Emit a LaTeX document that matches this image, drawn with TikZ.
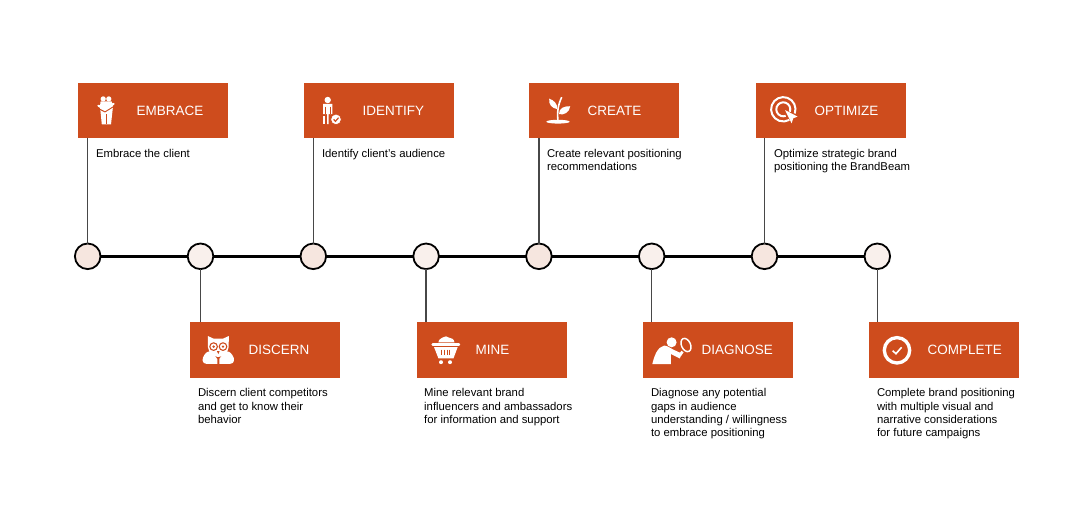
\documentclass[tikz,border=0pt]{standalone}
\usepackage{fontspec}
\setmainfont{Liberation Sans}
\usepackage{xcolor}
\usetikzlibrary{positioning}
\definecolor{brand}{HTML}{CE4C1D}
\definecolor{dotwarm}{HTML}{F6E6DF}
\definecolor{dotpale}{HTML}{F9F0EC}
\tikzset{
	pics/embraceicon/.style={code={
		\fill[white] (-2.8,-11.4) circle (2.6);
		\fill[white] (2.8,-11.4) circle (2.6);
		\fill[white] (-5.4,-9) -- (5.6,-9) -- (7,-4) -- (5,14) -- (-4.2,14) -- (-6,-4) -- cycle;
		\draw[brand,line width=.7pt] (-9,-2.5) -- (-1,1.6) -- (9,-4.6);
		\draw[white,line width=1.6pt,line cap=round] (-7.6,-4.6) -- (-1,-1) -- (7.6,-6.5);
		\draw[brand,line width=.4pt] (0,4) -- (0,14);
	}},
	pics/identifyicon/.style={code={
		\fill[white] (-4.3,-10.7) circle (3.2);
		\fill[white] (-9,-6.8) -- (.4,-6.8) -- (.4,3.4) -- (-3.4,3.4) -- (-3.4,13.4) -- (-5,13.4) -- (-5,3.4) -- (-9,3.4) -- cycle;
		\fill[white] (-9,5) rectangle (-6.6,13.4);
		\draw[brand,line width=.45pt] (-7.2,-4) -- (-7.2,3.4);
		\draw[brand,line width=.45pt] (-1.5,-4) -- (-1.5,3.4);
		\fill[white,draw=brand,line width=.6pt] (4,8.7) circle (5.4);
		\draw[brand,line width=.9pt] (1.6,8.7) -- (3.4,10.6) -- (6.6,7);
	}},
	pics/createicon/.style={code={
		\fill[white] (0,11) ellipse (11.7 and 1.9);
		\draw[white,line width=1.2pt] (0,10) .. controls (-1,2) and (0,-6) .. (3.7,-13.5);
		\fill[white] (-.6,-1.5) .. controls (-6,-2.5) and (-9.5,-6) .. (-8.8,-12) .. controls (-4,-10.5) and (-.6,-7) .. cycle;
		\fill[white] (1,3.5) .. controls (1,-3) and (6,-4.5) .. (12.2,-4.5) .. controls (11.5,2) and (6,4.5) .. cycle;
	}},
	pics/optimizeicon/.style={code={
		\draw[white,line width=1.5pt] (20:12.2) arc (20:-300:12.2);
		\draw[white,line width=1.5pt] (20:7) arc (20:-290:7);
		\fill[white] (1.7,.7) -- (14.3,7.3) -- (10,9) -- (8.3,14) -- cycle;
	}},
	pics/discernicon/.style={code={
		\fill[white] (-10.5,-14) -- (-5,-11.5) -- (5,-11.5) -- (10.5,-14) -- (10.4,-3) .. controls (10,3) and (4,7) .. (0,7) .. controls (-4,7) and (-10,3) .. (-10.4,-3) -- cycle;
		\fill[white] (-1,13.8) -- (-12,13.8) .. controls (-16,13.8) and (-17,9) .. (-14,5) .. controls (-12,2) and (-10,1) .. (-7,1) -- (-1,9) -- cycle;
		\fill[white] (1,13.8) -- (12,13.8) .. controls (16,13.8) and (17,9) .. (14,5) .. controls (12,2) and (10,1) .. (7,1) -- (1,9) -- cycle;
		\draw[brand,line width=.8pt] (-4.7,-3.4) circle (3.8);
		\draw[brand,line width=.8pt] (4.7,-3.4) circle (3.8);
		\fill[brand] (-4.7,-3.4) circle (1.3);
		\fill[brand] (4.7,-3.4) circle (1.3);
		\fill[brand] (-1.4,1) -- (1.4,1) -- (0,4) -- cycle;
	}},
	pics/mineicon/.style={code={
		\fill[white] (-7.3,-7.6) .. controls (-7.3,-11) and (-4,-11.5) .. (-3,-12.5) .. controls (-1,-14) and (2,-14) .. (3,-12.5) .. controls (5,-12.5) and (8.6,-11) .. (8.8,-7.6) -- cycle;
		\draw[white,line width=2pt,line cap=round] (-13,-5.4) -- (13.2,-5.4);
		\fill[white] (-11.7,-3) -- (12,-3) -- (7.8,8.3) -- (-7.3,8.3) -- cycle;
		\foreach \slit in {-4,-1.4,1.4,4}
			\draw[brand,line width=.7pt] (\slit,-.4) -- (\slit,5.2);
		\fill[white] (-4.7,12.2) circle (2);
		\fill[white] (4.3,12.2) circle (2);
	}},
	pics/diagnoseicon/.style={code={
		\fill[white] (-.7,-7.7) circle (5);
		\fill[white] (-20,14) .. controls (-18,6) and (-15,-3) .. (-8,-4.5) .. controls (-4,-4) and (-1,-1) .. (4,1) -- (9.5,3.5) -- (7.5,8.5) -- (-1.5,4) -- (-1.5,14) -- cycle;
		\draw[white,line width=1.1pt,rotate around={25:(13.7,-5)}] (13.7,-5) ellipse (4.5 and 7);
		\draw[white,line width=2pt] (10.2,1.5) -- (7.5,5.5);
	}},
	pics/completeicon/.style={code={
		\draw[white,line width=2.5pt] (0,0) circle (12.7);
		\draw[white,line width=1.2pt] (-4.4,.4) -- (-1,3.4) -- (4.6,-3);
	}}
}
\begin{document}
\begin{tikzpicture}[
	x=0.75pt, y=-0.75pt,
	node distance=65.4pt,
	stepbox/.style={rectangle, fill=brand, text=white, font=\fontsize{10.1}{12}\selectfont,
		minimum height=41.6pt, text width=100.5pt, inner xsep=6pt, inner ysep=0pt, outer sep=0pt,
		align=left, execute at begin node={\hspace*{38pt}}},
	note/.style={font=\fontsize{8.5}{10}\selectfont, align=left, inner sep=0pt, outer sep=0pt},
	dot/.style={circle, draw=black, line width=1.35pt, minimum size=19.2pt, inner sep=0pt, outer sep=0pt},
	stem/.style={draw=black!72, line width=1pt},
	spine/.style={draw=black, line width=2.4pt}
	]
	\useasboundingbox (0,0) rectangle (1090,529);
	\node[stepbox] (embrace) at (153,110.5) {EMBRACE};
	\node[stepbox] (identify) at (379,110.5) {IDENTIFY};
	\node[stepbox] (create) at (604,110.5) {CREATE};
	\node[stepbox] (optimize) at (831,110.5) {OPTIMIZE};
	\node[stepbox] (discern) at (265,350) {DISCERN};
	\node[stepbox] (mine) at (492,350) {MINE};
	\node[stepbox] (diagnose) at (718,350) {DIAGNOSE};
	\node[stepbox] (complete) at (944,350) {COMPLETE};
	\node[note, below right=8.2pt and 13.5pt of embrace.south west] (embracetext) {Embrace the client};
	\node[note, below right=8.2pt and 13.5pt of identify.south west] (identifytext) {Identify client's audience};
	\node[note, below right=8.2pt and 13.5pt of create.south west] (createtext) {Create relevant positioning\\recommendations};
	\node[note, below right=8.2pt and 13.5pt of optimize.south west] (optimizetext) {Optimize strategic brand\\positioning the BrandBeam};
	\node[note, below right=8.2pt and 6pt of discern.south west] (discerntext) {Discern client competitors\\and get to know their\\behavior};
	\node[note, below right=8.2pt and 5.4pt of mine.south west] (minetext) {Mine relevant brand\\influencers and ambassadors\\for information and support};
	\node[note, below right=8.2pt and 6pt of diagnose.south west] (diagnosetext) {Diagnose any potential\\gaps in audience\\understanding / willingness\\to embrace positioning};
	\node[note, below right=8.2pt and 6pt of complete.south west] (completetext) {Complete brand positioning\\with multiple visual and\\narrative considerations\\for future campaigns};
	\node[dot, fill=dotwarm] (dot1) at (87.7,256.3) {};
	\node[dot, fill=dotpale, right=of dot1] (dot2) {};
	\node[dot, fill=dotwarm, right=of dot2] (dot3) {};
	\node[dot, fill=dotpale, right=of dot3] (dot4) {};
	\node[dot, fill=dotwarm, right=of dot4] (dot5) {};
	\node[dot, fill=dotpale, right=of dot5] (dot6) {};
	\node[dot, fill=dotwarm, right=of dot6] (dot7) {};
	\node[dot, fill=dotpale, right=of dot7] (dot8) {};
	\draw[spine] (dot1) -- (dot2);
	\draw[spine] (dot2) -- (dot3);
	\draw[spine] (dot3) -- (dot4);
	\draw[spine] (dot4) -- (dot5);
	\draw[spine] (dot5) -- (dot6);
	\draw[spine] (dot6) -- (dot7);
	\draw[spine] (dot7) -- (dot8);
	\draw[stem] (dot1.north) -- (dot1.north |- embrace.south);
	\draw[stem] (dot3.north) -- (dot3.north |- identify.south);
	\draw[stem] (dot5.north) -- (dot5.north |- create.south);
	\draw[stem] (dot7.north) -- (dot7.north |- optimize.south);
	\draw[stem] (dot2.south) -- (dot2.south |- discern.north);
	\draw[stem] (dot4.south) -- (dot4.south |- mine.north);
	\draw[stem] (dot6.south) -- (dot6.south |- diagnose.north);
	\draw[stem] (dot8.south) -- (dot8.south |- complete.north);
	\pic at (106,110.3) {embraceicon};
	\pic at (332,110.7) {identifyicon};
	\pic at (558,110.7) {createicon};
	\pic at (783.3,109.3) {optimizeicon};
	\pic at (218.3,350) {discernicon};
	\pic at (445.7,350) {mineicon};
	\pic at (672.3,350) {diagnoseicon};
	\pic at (897,350.3) {completeicon};
\end{tikzpicture}
\end{document}
